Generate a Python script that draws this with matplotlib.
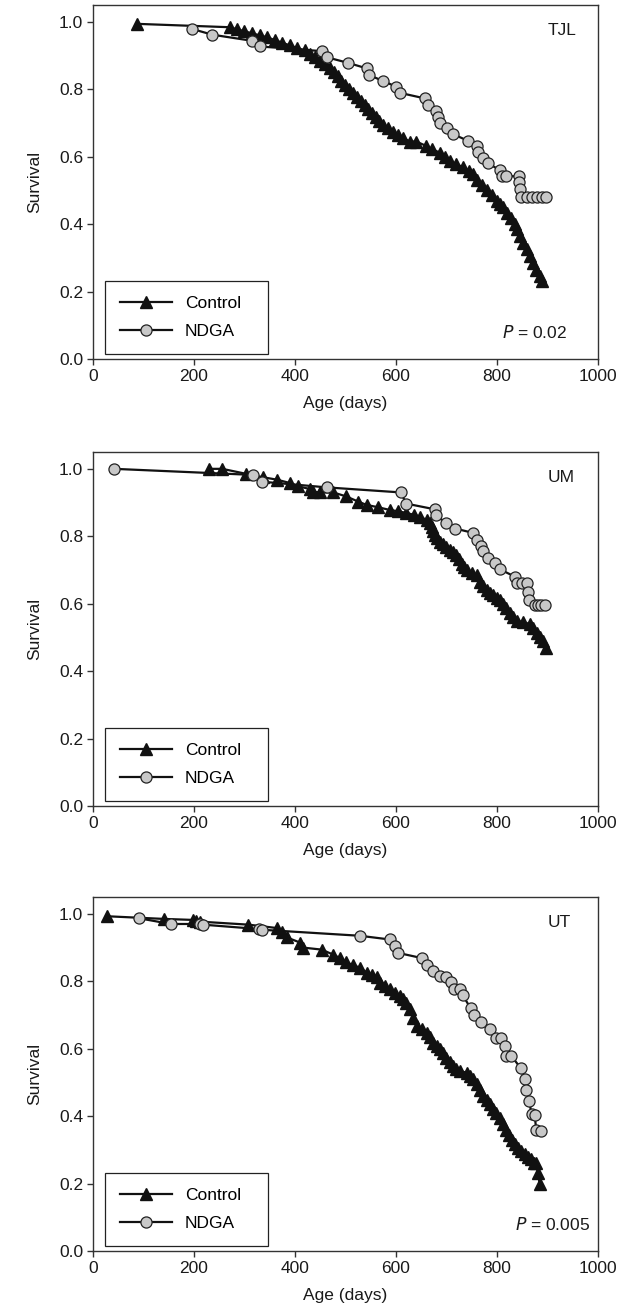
import matplotlib
matplotlib.use("Agg")
import matplotlib.pyplot as plt
from matplotlib.ticker import FormatStrFormatter

plt.rcParams['font.family'] = ['Liberation Sans', 'DejaVu Sans']
plt.rcParams['font.size'] = 12.5

# TJL
tjl_ctrl_x = [88, 271, 285, 300, 315, 330, 345, 360, 375, 390,
              405, 420, 430, 440, 450, 460, 470, 478, 485, 492,
              500, 508, 515, 522, 530, 538, 545, 552, 560, 567,
              575, 585, 595, 605, 615, 628, 640, 660, 672, 687,
              697, 707, 720, 733, 745, 752, 760, 770, 780, 790,
              800, 806, 812, 820, 828, 835, 840, 846, 852, 859,
              865, 871, 878, 885, 890]
tjl_ctrl_y = [0.994, 0.984, 0.978, 0.972, 0.966, 0.960, 0.954, 0.946, 0.938, 0.930,
              0.922, 0.915, 0.905, 0.895, 0.885, 0.874, 0.862, 0.850, 0.838, 0.826,
              0.814, 0.800, 0.790, 0.778, 0.766, 0.754, 0.742, 0.730, 0.718, 0.706,
              0.694, 0.684, 0.674, 0.664, 0.654, 0.645, 0.645, 0.632, 0.622, 0.612,
              0.600, 0.588, 0.578, 0.568, 0.558, 0.548, 0.530, 0.515, 0.500, 0.486,
              0.470, 0.460, 0.450, 0.432, 0.418, 0.400, 0.385, 0.365, 0.345, 0.325,
              0.305, 0.285, 0.265, 0.245, 0.232]
tjl_ndga_x = [196, 236, 314, 331, 454, 463, 506, 542, 547, 574,
              600, 609, 657, 663, 679, 684, 687, 702, 713, 743,
              760, 763, 772, 783, 806, 811, 819, 843, 844, 846,
              848, 859, 869, 879, 889, 897]
tjl_ndga_y = [0.979, 0.962, 0.944, 0.927, 0.913, 0.895, 0.878, 0.862, 0.842, 0.825,
              0.808, 0.789, 0.773, 0.753, 0.736, 0.719, 0.701, 0.685, 0.667, 0.647,
              0.632, 0.614, 0.597, 0.580, 0.560, 0.542, 0.542, 0.542, 0.525, 0.503,
              0.481, 0.481, 0.481, 0.481, 0.481, 0.481]

# UM
um_ctrl_x = [230, 256, 304, 337, 364, 390, 407, 430, 436, 450,
             476, 502, 525, 542, 565, 588, 605, 621, 635, 648,
             661, 667, 671, 674, 678, 681, 688, 694, 700, 707,
             714, 720, 725, 730, 735, 740, 750, 760, 766, 773,
             780, 787, 793, 800, 806, 812, 819, 826, 832, 839,
             852, 865, 872, 879, 886, 892, 897]
um_ctrl_y = [1.000, 1.000, 0.985, 0.975, 0.968, 0.958, 0.948, 0.940, 0.932, 0.930,
             0.930, 0.918, 0.903, 0.893, 0.886, 0.878, 0.874, 0.869, 0.864, 0.858,
             0.848, 0.838, 0.828, 0.816, 0.804, 0.794, 0.784, 0.776, 0.769, 0.759,
             0.752, 0.744, 0.732, 0.719, 0.710, 0.700, 0.692, 0.685, 0.665, 0.652,
             0.640, 0.633, 0.626, 0.618, 0.611, 0.598, 0.586, 0.572, 0.561, 0.550,
             0.545, 0.540, 0.527, 0.514, 0.502, 0.488, 0.470]
um_ndga_x = [42, 317, 334, 463, 610, 620, 677, 679, 699, 717,
             753, 760, 768, 772, 783, 796, 806, 836, 839, 849,
             859, 862, 864, 875, 882, 888, 895]
um_ndga_y = [1.000, 0.982, 0.962, 0.945, 0.930, 0.897, 0.880, 0.862, 0.840, 0.823,
             0.810, 0.790, 0.772, 0.755, 0.737, 0.720, 0.702, 0.680, 0.662, 0.662,
             0.662, 0.635, 0.612, 0.596, 0.596, 0.596, 0.596]

# UT
ut_ctrl_x = [27, 141, 199, 205, 212, 308, 364, 374, 384, 410,
             416, 453, 476, 490, 502, 515, 529, 542, 552, 562,
             568, 578, 588, 598, 608, 615, 621, 628, 634, 641,
             651, 661, 667, 674, 681, 687, 694, 700, 707, 713,
             720, 727, 740, 747, 753, 760, 766, 773, 780, 786,
             793, 799, 806, 812, 818, 824, 830, 836, 842, 848,
             855, 862, 868, 874, 878, 881, 885]
ut_ctrl_y = [0.993, 0.985, 0.982, 0.980, 0.977, 0.968, 0.958, 0.945, 0.930, 0.915,
             0.900, 0.894, 0.879, 0.868, 0.856, 0.848, 0.840, 0.826, 0.820, 0.814,
             0.796, 0.786, 0.776, 0.766, 0.756, 0.746, 0.736, 0.717, 0.690, 0.668,
             0.658, 0.648, 0.634, 0.618, 0.608, 0.598, 0.586, 0.573, 0.561, 0.549,
             0.540, 0.534, 0.529, 0.519, 0.509, 0.494, 0.479, 0.460, 0.448, 0.435,
             0.422, 0.410, 0.395, 0.378, 0.360, 0.345, 0.330, 0.318, 0.306, 0.296,
             0.287, 0.280, 0.272, 0.262, 0.262, 0.232, 0.198]
ut_ndga_x = [91, 154, 212, 218, 328, 334, 529, 588, 598, 605,
             651, 661, 674, 687, 700, 710, 715, 727, 732, 748,
             754, 768, 786, 798, 809, 816, 819, 829, 847, 855,
             857, 864, 869, 875, 878, 887]
ut_ndga_y = [0.987, 0.970, 0.970, 0.968, 0.955, 0.953, 0.935, 0.924, 0.904, 0.884,
             0.869, 0.849, 0.832, 0.816, 0.814, 0.798, 0.777, 0.777, 0.760, 0.720,
             0.700, 0.680, 0.658, 0.633, 0.633, 0.608, 0.578, 0.578, 0.543, 0.509,
             0.479, 0.444, 0.405, 0.402, 0.360, 0.357]

panels = [
    ("TJL", tjl_ctrl_x, tjl_ctrl_y, tjl_ndga_x, tjl_ndga_y, "0.02", 0.7264),
    ("UM", um_ctrl_x, um_ctrl_y, um_ndga_x, um_ndga_y, None, 0.3857),
    ("UT", ut_ctrl_x, ut_ctrl_y, ut_ndga_x, ut_ndga_y, "0.005", 0.0465),
]

fig = plt.figure(figsize=(6.31, 13.12), dpi=100)
spine_col = '#333333'
txt_col = '#1a1a1a'

for name, cx, cy, nx, ny, pval, bottom in panels:
    ax = fig.add_axes([0.1474, bottom, 0.800, 0.2698])
    ax.plot(cx, cy, color='#111111', lw=1.6, marker='^', ms=8.5,
            mfc='#111111', mec='#111111', label='Control')
    ax.plot(nx, ny, color='#111111', lw=1.6, marker='o', ms=8,
            mfc='#c8c8c8', mec='#222222', mew=0.9, label='NDGA')

    ax.set_xlim(0, 1000)
    ax.set_ylim(0, 1.05)
    ax.set_xticks(range(0, 1001, 200))
    ax.set_yticks([0.0, 0.2, 0.4, 0.6, 0.8, 1.0])
    ax.yaxis.set_major_formatter(FormatStrFormatter('%.1f'))
    ax.tick_params(direction='out', length=4, width=1, color=spine_col,
                   labelsize=12.5, labelcolor=txt_col, pad=3)
    for s in ax.spines.values():
        s.set_color(spine_col)
        s.set_linewidth(1.0)

    ax.set_xlabel('Age (days)', fontsize=12.5, color=txt_col, labelpad=9)
    ax.set_ylabel('Survival', fontsize=12.5, color=txt_col, labelpad=12)

    ax.text(0.90, 0.928, name, transform=ax.transAxes, fontsize=12.5,
            ha='left', va='center', color=txt_col)
    if pval is not None:
        xr = 0.94 if pval == "0.02" else 0.985
        ax.text(xr, 0.075, '$P$ = ' + pval, transform=ax.transAxes,
                fontsize=12.5, ha='right', va='center', color=txt_col)

    leg = ax.legend(loc='lower left', bbox_to_anchor=(0.024, 0.015, 0.323, 0.2),
                    mode='expand', borderaxespad=0, fancybox=False,
                    framealpha=1, edgecolor='#222222', handlelength=3.0,
                    handletextpad=0.75, labelspacing=0.75, borderpad=0.85,
                    fontsize=12.5)
    leg.get_frame().set_linewidth(0.9)

fig.savefig('out.png', dpi=100)
